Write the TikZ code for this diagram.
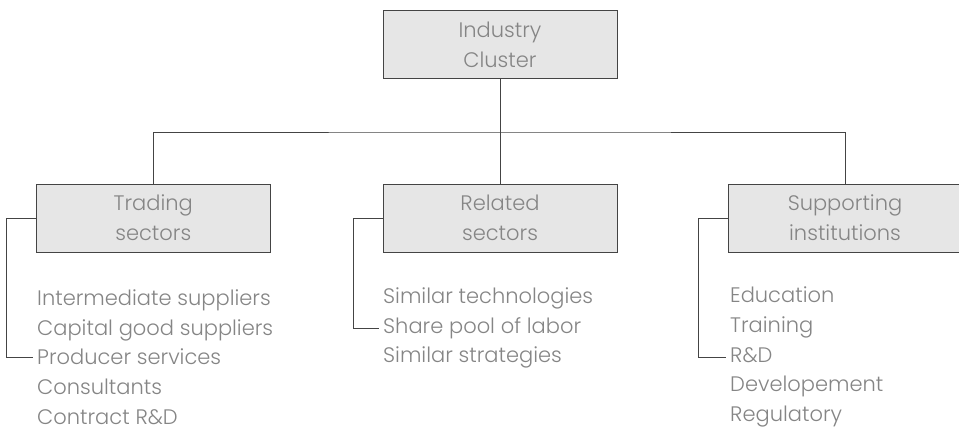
\documentclass[tikz,border=0pt]{standalone}
\usepackage{fontspec}
\IfFontExistsTF{Poppins Light}{\setmainfont{Poppins Light}}{\setmainfont{Poppins}}
\usepackage{tikz}
\usetikzlibrary{positioning}
\definecolor{clusterline}{HTML}{444444}
\definecolor{clusterfill}{HTML}{E6E6E6}
\definecolor{clustertext}{HTML}{858585}

\begin{document}
\begin{tikzpicture}[
    x=1pt, y=-1pt,
    every node/.style={font=\fontsize{21}{29.7}\selectfont, text=clustertext},
    box/.style={
        rectangle,
        draw=clusterline,
        fill=clusterfill,
        line width=1pt,
        minimum width=234pt,
        minimum height=68pt,
        inner sep=0pt,
        align=center
    },
    itemlist/.style={
        align=left,
        anchor=west,
        inner xsep=4pt,
        inner ysep=0pt
    },
    link/.style={
        draw=clusterline,
        line width=1pt
    }
]
\useasboundingbox (0,0) rectangle (959,428);

% Top node
\node[box] (cluster) at (500,45) {Industry\\Cluster};

% Three branches
\node[box] (trading) at (153.3,218) {Trading\\sectors};
\node[box] (related) at (500,218) {Related\\sectors};
\node[box] (supporting) at (845,218) {Supporting\\institutions};

% Tree lines
\coordinate (bus) at (500,132);
\draw[link] (cluster.south) -- (bus);
\draw[link] (trading.north) |- (bus) -| (supporting.north);
\draw[link] (bus) -- (related.north);

% Member lists
\node[itemlist] (tradinglist) at (33,357) {Intermediate suppliers\\Capital good suppliers\\Producer services\\Consultants\\Contract R\&D};
\node[itemlist] (relatedlist) at (379,328) {Similar technologies\\Share pool of labor\\Similar strategies};
\node[itemlist] (supportinglist) at (726,357) {Education\\Training\\R\&D\\Developement\\Regulatory};

% Side brackets
\draw[link] (trading.west) -- ++(-29.5,0) |- (tradinglist.west);
\draw[link] (related.west) -- ++(-29.5,0) |- (relatedlist.west);
\draw[link] (supporting.west) -- ++(-29.5,0) |- (supportinglist.west);

\end{tikzpicture}
\end{document}
